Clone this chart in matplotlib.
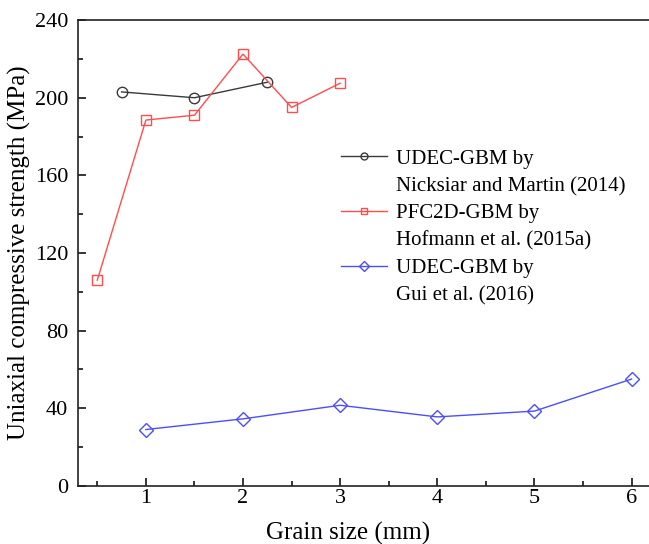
import matplotlib
matplotlib.use("Agg")
import matplotlib.pyplot as plt
from matplotlib.lines import Line2D
from matplotlib.ticker import MultipleLocator

plt.rcParams['font.family'] = ['Liberation Serif', 'DejaVu Serif']
plt.rcParams['mathtext.fontset'] = 'stix'

# Nicksiar and Martin (2014)
nm_x = [0.75, 1.5, 2.25]
nm_y = [203, 200, 208]
# Hofmann et al. (2015a)
hof_x = [0.5, 1.0, 1.5, 2.0, 2.5, 3.0]
hof_y = [106, 188.5, 191, 222.5, 195, 207.5]
# Gui et al. (2016)
gui_x = [1, 2, 3, 4, 5, 6]
gui_y = [29, 34.5, 41.5, 35.5, 38.5, 55]

c_black = '#3a3a3a'
c_red = '#ff4d4d'
c_blue = '#4d4dff'

fig = plt.figure(figsize=(6.49, 5.44), dpi=100)
ax = fig.add_axes([0.120, 0.107, 0.898, 0.856])

ax.plot(nm_x, nm_y, color=c_black, lw=1.0, marker='o', ms=7.5,
        mfc='none', mec=c_black, mew=1.0)
ax.plot(hof_x, hof_y, color=c_red, lw=1.0, marker='s', ms=7,
        mfc='none', mec=c_red, mew=1.0)
ax.plot(gui_x, gui_y, color=c_blue, lw=1.0, marker='D', ms=7,
        mfc='none', mec=c_blue, mew=1.0)

ax.set_xlim(0.3, 6.3)
ax.set_ylim(0, 240)
ax.xaxis.set_major_locator(MultipleLocator(1))
ax.xaxis.set_minor_locator(MultipleLocator(0.5))
ax.yaxis.set_major_locator(MultipleLocator(40))
ax.yaxis.set_minor_locator(MultipleLocator(20))
ax.tick_params(which='both', direction='in', top=False, right=False,
               width=1.1, labelsize=16)
ax.tick_params(which='major', length=6)
ax.tick_params(which='minor', length=3.5)
ax.tick_params(axis='x', which='major', pad=2)
ax.tick_params(axis='y', which='major', pad=7)
for s in ax.spines.values():
    s.set_linewidth(1.2)
    s.set_color('#222222')

ax.set_xlabel('Grain size (mm)', fontsize=18)
ax.xaxis.set_label_coords(0.464, -0.078)
ax.set_ylabel('Uniaxial compressive strength (MPa)', fontsize=18, labelpad=3)

# legend with two-line labels; handle sits on the first line
blank = Line2D([], [], linestyle='none', marker=None)
handles = [
    Line2D([], [], color=c_black, lw=1.0, marker='o', ms=5, mfc='none', mec=c_black),
    blank,
    Line2D([], [], color=c_red, lw=1.0, marker='s', ms=5, mfc='none', mec=c_red),
    blank,
    Line2D([], [], color=c_blue, lw=1.0, marker='D', ms=5, mfc='none', mec=c_blue),
    blank,
]
labels = ['UDEC-GBM by', 'Nicksiar and Martin (2014)',
          'PFC2D-GBM by', 'Hofmann et al. (2015a)',
          'UDEC-GBM by', 'Gui et al. (2016)']
ax.legend(handles, labels, loc='upper left', bbox_to_anchor=(0.451, 0.723),
          frameon=False, fontsize=15, borderpad=0, borderaxespad=0,
          handlelength=2.24, handletextpad=0.42, labelspacing=0.37)

fig.savefig('out.png', dpi=100)
